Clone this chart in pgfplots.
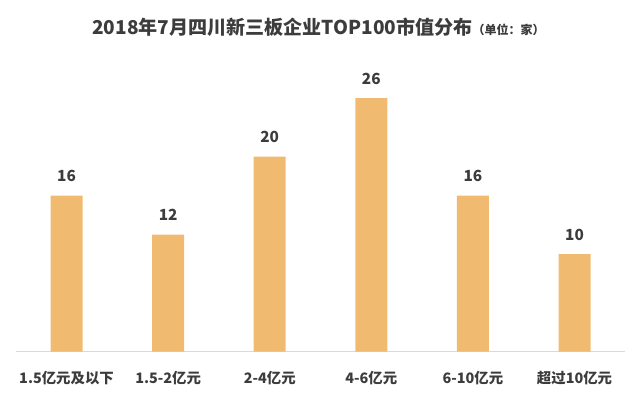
\documentclass[border=0pt]{standalone}
\usepackage{pgfplots}
\pgfplotsset{compat=1.18}
\usepackage{fontspec}
\setmainfont{Noto Sans CJK SC}
\definecolor{barc}{RGB}{240,187,112}
\definecolor{txt}{RGB}{60,60,60}
\definecolor{basec}{RGB}{217,217,217}
\begin{document}
\begin{tikzpicture}
\useasboundingbox (0,0) rectangle (480pt,299.25pt);
\node[anchor=west, text=txt, inner sep=0pt] at (69pt,278.6pt)
  {\fontsize{14.3pt}{16pt}\selectfont\bfseries 2018年7月四川新三板企业TOP100市值分布\fontsize{9pt}{10pt}\selectfont（单位：家）};
\begin{axis}[
  at={(11.8pt,35.5pt)}, anchor=south west,
  scale only axis, width=457.2pt, height=219.4pt,
  xmin=-0.5, xmax=5.5, ymin=0, ymax=30,
  axis x line=bottom, axis y line=none,
  x axis line style={draw=basec, line width=0.8pt, -},
  ytick=\empty,
  xtick=data,
  xticklabels={1.5亿元及以下,1.5-2亿元,2-4亿元,4-6亿元,6-10亿元,超过10亿元},
  major tick length=0pt,
  xticklabel style={anchor=center, yshift=-19.5pt, text=txt, font=\fontsize{10.8pt}{12pt}\selectfont\bfseries},
  /pgf/number format/assume math mode=true,
  ybar, bar width=24pt,
  nodes near coords,
  nodes near coords style={anchor=center, yshift=14.6pt, text=txt, font=\fontsize{11.5pt}{13pt}\selectfont\bfseries},
  clip=false,
]
\addplot[fill=barc, draw=none, bar shift=0pt] coordinates {(0,16) (1,12) (2,20) (3,26) (4,16) (5,10)};
\end{axis}
\end{tikzpicture}
\end{document}
